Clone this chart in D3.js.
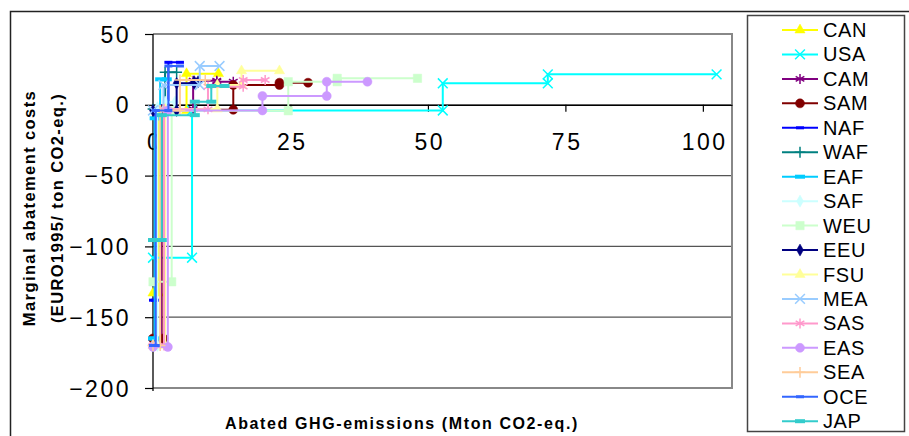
<!DOCTYPE html>
<html>
<head>
<meta charset="utf-8">
<script src="https://cdn.jsdelivr.net/npm/d3@7"></script>
<style>
  body { margin: 0; background: #fff; }
  svg { display: block; font-family: "Liberation Sans", Arial, sans-serif; }
</style>
</head>
<body>
<svg id="chart" width="909" height="436"></svg>
<script>
// regions, in legend order
const regions = ["CAN","USA","CAM","SAM","NAF","WAF","EAF","SAF","WEU","EEU","FSU","MEA","SAS","EAS","SEA","OCE","JAP"];

// step curves: [abated Mton, cost EURO/ton]
const CAN = [[0,-133],[1,-133],[1,-4],[6.1,-4],[6.1,22],[11.9,22]];
const USA = [[0,-108],[7.1,-108],[7.1,-4],[52.7,-4],[52.7,15.2],[71.8,15.2],[71.8,21.5],[102.5,21.5]];
const CAM = [[0,-168],[1.5,-168],[1.5,-3],[7.3,-3],[7.3,17],[11.6,17],[11.6,16.3],[14.6,16.3]];
const SAM = [[0,-165],[1.9,-165],[1.9,-3.5],[14.6,-3.5],[14.6,14],[23,14],[23,15.6],[28.2,15.6]];
const NAF = [[0,-138],[0.4,-138],[0.4,-4],[2.8,-4],[2.8,30],[4.9,30]];
const WAF = [[0,-3],[2.2,-3],[2.2,23],[4.3,23]];
const EAF = [[0,-165],[0.3,-165],[0.3,-9.5],[1.3,-9.5],[1.3,18],[2.5,18]];
const SAF = [[0,-170],[0.8,-170],[0.8,-2],[2.2,-2],[2.2,2],[4,2]];
const WEU = [[0,-125],[3.4,-125],[3.4,-4.2],[24.6,-4.2],[24.6,16.3],[33.5,16.3],[33.5,18.7],[48.1,18.7]];
const EEU = [[0,-4],[4.3,-4],[4.3,15.2],[7.5,15.2],[7.5,16.3],[8.2,16.3]];
const FSU = [[0,-170],[2.2,-170],[2.2,-3],[11.7,-3],[11.7,14],[16.1,14],[16.1,24],[23,24]];
const MEA = [[0,-4],[1.9,-4],[1.9,14],[8.5,14],[8.5,27.4],[12.1,27.4]];
const SAS = [[0,-170],[2,-170],[2,-3.2],[10,-3.2],[10,12.8],[16.4,12.8],[16.4,17.5],[20.4,17.5]];
const EAS = [[0,-171],[2.7,-171],[2.7,-4],[19.9,-4],[19.9,6.2],[31.6,6.2],[31.6,16.3],[39,16.3]];
const SEA = [[0,-170],[1.3,-170],[1.3,-4],[4.9,-4],[4.9,17.5],[9.5,17.5]];
const OCE = [[0,-170],[0.5,-170],[0.5,-4],[2.8,-4],[2.8,27.4],[4.9,27.4]];
const JAP = [[0,-95.5],[1.6,-95.5],[1.6,-7.3],[7.6,-7.3],[7.6,2.2],[10.6,2.2],[10.6,13.3],[13,13.3]];

const seriesValues = [CAN,USA,CAM,SAM,NAF,WAF,EAF,SAF,WEU,EEU,FSU,MEA,SAS,EAS,SEA,OCE,JAP];

const xTicks = [0, 25, 50, 75, 100];
const yTicks = [50, 0, -50, -100, -150, -200];

// styles
const colors = ["#FFFF00","#00FFFF","#800080","#800000","#0000FF","#008080","#00CCFF","#CCFFFF","#CCFFCC","#000080","#FFFF99","#99CCFF","#FF99CC","#CC99FF","#FFCC99","#3366FF","#33CCCC"];
const markers = ["triangle","times","star","circle","dash","plus","bigdash","diamond","square","diamond","triangle","times","star","circle","plus","dash","bigdash"];

const svg = d3.select("#chart");
const margin = {left: 153, right: 732, top: 34, bottom: 388};

const x = d3.scaleLinear().domain([0, 105.3]).range([margin.left, margin.right]);
const y = d3.scaleLinear().domain([50, -200]).range([margin.top, margin.bottom]);

// outer frame
svg.append("rect").attr("x", 10.5).attr("y", 11.5).attr("width", 1000).attr("height", 1000)
  .attr("fill", "none").attr("stroke", "#222").attr("stroke-width", 1.5);

// gridlines
svg.append("g").selectAll("line").data(yTicks.filter(d => d > -200 && d < 50)).enter().append("line")
  .attr("x1", margin.left).attr("x2", margin.right)
  .attr("y1", d => y(d)).attr("y2", d => y(d))
  .attr("stroke", "#555").attr("stroke-width", 1.3);

// plot border
svg.append("path")
  .attr("d", `M${margin.left},${margin.top}H${margin.right}V${margin.bottom}H${margin.left}`)
  .attr("fill", "none").attr("stroke", "#888").attr("stroke-width", 2);

// y axis
const yAxis = svg.append("g").attr("transform", `translate(${margin.left},0)`)
  .call(d3.axisLeft(y).tickValues(yTicks).tickSize(8).tickSizeOuter(0).tickPadding(0));
yAxis.select(".domain").attr("stroke", "#000").attr("stroke-width", 1.3)
  .attr("d", `M0,${margin.top}V${margin.bottom + 3}`);
yAxis.selectAll(".tick line").attr("stroke", "#000").attr("stroke-width", 1.2);
yAxis.selectAll(".tick text")
  .attr("x", -22).attr("dy", "0.35em")
  .style("font-size", "23px").style("letter-spacing", "2.5px")
  .style("font-family", "Liberation Sans, Arial, sans-serif").attr("fill", "#000");

// x axis on the zero line
const xAxis = svg.append("g").attr("transform", `translate(0,${y(0)})`)
  .call(d3.axisBottom(x).tickValues(xTicks).tickSize(7).tickSizeOuter(0).tickPadding(0));
xAxis.select(".domain").attr("stroke", "#000").attr("stroke-width", 1.2);
xAxis.selectAll(".tick line").attr("stroke", "#000").attr("stroke-width", 1.2);
xAxis.selectAll(".tick text")
  .attr("y", 45).attr("dy", "0").attr("dx", "1.25px")
  .style("font-size", "23px").style("letter-spacing", "2.5px")
  .style("font-family", "Liberation Sans, Arial, sans-serif").attr("fill", "#000");

// marker drawing
function drawMarker(g, type, color) {
  const sym = {
    triangle: [d3.symbolTriangle, 45, true],
    circle: [d3.symbolCircle, 64, true],
    diamond: [d3.symbolDiamond, 42, true],
    square: [d3.symbolSquare, 70, true],
    times: [d3.symbolTimes, 64, false],
    star: [d3.symbolAsterisk, 70, false],
    plus: [d3.symbolPlus, 40, false]
  }[type];
  if (sym) {
    g.append("path").attr("d", d3.symbol(sym[0], sym[1])())
      .attr("fill", sym[2] ? color : "none")
      .attr("stroke", color).attr("stroke-width", sym[2] ? 0.5 : 1.5);
  } else {
    const w = type === "bigdash" ? 10 : 8, h = type === "bigdash" ? 4 : 3;
    g.append("rect").attr("x", -w / 2).attr("y", -h / 2).attr("width", w).attr("height", h).attr("fill", color);
  }
}

const line = d3.line().x(d => x(d[0])).y(d => y(d[1]));

const plot = svg.append("g");
seriesValues.forEach((vals, i) => {
  const g = plot.append("g");
  g.append("path").attr("d", line(vals)).attr("fill", "none")
    .attr("stroke", colors[i]).attr("stroke-width", 2);
  vals.forEach(p => {
    const m = g.append("g").attr("transform", `translate(${x(p[0])},${y(p[1])})`);
    drawMarker(m, markers[i], colors[i]);
  });
});

// legend
const legend = svg.append("g");
legend.append("rect").attr("x", 747.5).attr("y", 15.5).attr("width", 157).attr("height", 416)
  .attr("fill", "#fff").attr("stroke", "#444").attr("stroke-width", 1.5);
regions.forEach((name, i) => {
  const ly = 30 + i * 24.45;
  const row = legend.append("g").attr("transform", `translate(0,${ly})`);
  row.append("line").attr("x1", 782).attr("x2", 818).attr("y1", 0).attr("y2", 0)
    .attr("stroke", colors[i]).attr("stroke-width", 2);
  drawMarker(row.append("g").attr("transform", "translate(800,0)"), markers[i], colors[i]);
  row.append("text").attr("x", 823).attr("y", 0).attr("dy", "0.35em")
    .style("font-size", "20px").style("letter-spacing", "0.6px").text(name);
});

// axis titles
svg.append("text").attr("x", 402).attr("y", 423).attr("dy", "0.35em").attr("text-anchor", "middle")
  .style("font-size", "16px").style("font-weight", "bold").style("letter-spacing", "1.6px")
  .text("Abated GHG-emissions (Mton CO2-eq.)");
const yTitle = svg.append("text").attr("transform", "translate(0,208) rotate(-90)")
  .attr("text-anchor", "middle").style("font-size", "16.5px").style("font-weight", "bold")
  .style("letter-spacing", "1.4px");
yTitle.append("tspan").attr("x", 0).attr("y", 29).attr("dy", "0.35em").text("Marginal abatement costs");
yTitle.append("tspan").attr("x", 0).attr("y", 57).attr("dy", "0.35em").text("(EURO1995/ ton CO2-eq.)");
</script>
</body>
</html>
